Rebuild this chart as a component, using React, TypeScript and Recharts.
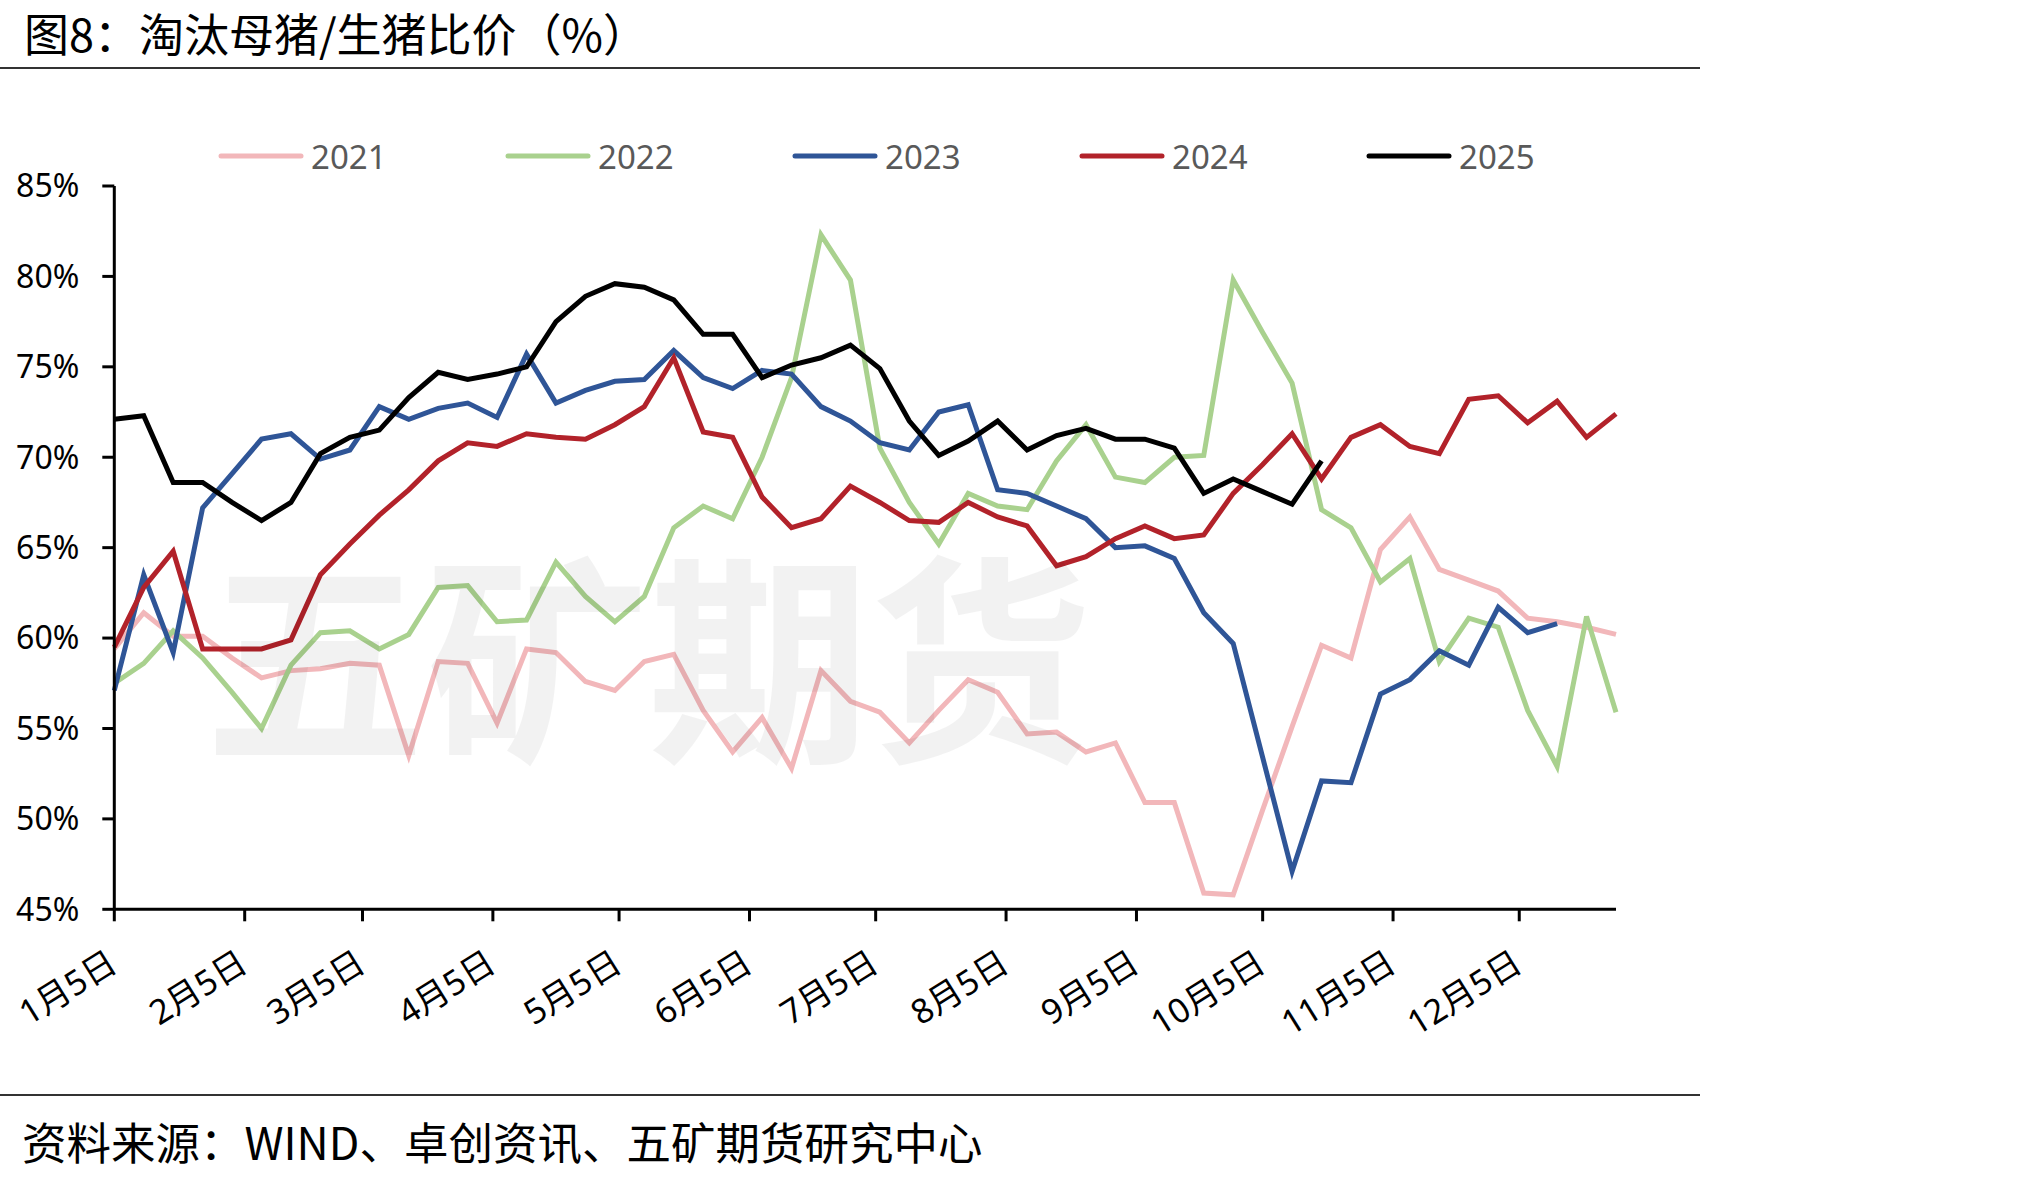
import React from 'react';
import { LineChart, Line, XAxis, YAxis } from 'recharts';

// weekly observations, x = days since Jan 5
const weekDays = Array.from({ length: 52 }, (_, i) => i * 7);

const y2021 = [
  59.4, 61.4, 60.1, 60.1, 58.9, 57.8, 58.2, 58.3, 58.6, 58.5, 53.5, 58.7, 58.6, 55.3, 59.4, 59.2, 57.6, 57.1,
  58.7, 59.1, 56.0, 53.7, 55.6, 52.8, 58.2, 56.5, 55.9, 54.2, 56.0, 57.7, 57.0, 54.7, 54.8, 53.7, 54.2, 50.9,
  50.9, 45.9, 45.8, 50.5, 55.1, 59.6, 58.9, 64.9, 66.7, 63.8, 63.2, 62.6, 61.1, 60.9, 60.6, 60.2,
];
const y2022 = [
  57.5, 58.6, 60.4, 58.9, 57.0, 55.0, 58.5, 60.3, 60.4, 59.4, 60.2, 62.8, 62.9, 60.9, 61.0, 64.2, 62.3, 60.9,
  62.3, 66.1, 67.3, 66.6, 70.0, 74.4, 82.3, 79.8, 70.5, 67.5, 65.2, 68.0, 67.3, 67.1, 69.8, 71.8, 68.9, 68.6,
  70.0, 70.1, 79.8, 76.9, 74.1, 67.1, 66.1, 63.1, 64.4, 58.7, 61.1, 60.6, 56.0, 52.9, 61.2, 55.9,
];
const y2023 = [
  57.1, 63.5, 59.2, 67.2, 69.1, 71.0, 71.3, 69.9, 70.4, 72.8, 72.1, 72.7, 73.0, 72.2, 75.7, 73.0, 73.7, 74.2,
  74.3, 75.9, 74.4, 73.8, 74.8, 74.6, 72.8, 72.0, 70.8, 70.4, 72.5, 72.9, 68.2, 68.0, 67.3, 66.6, 65.0, 65.1,
  64.4, 61.4, 59.7, 53.4, 47.1, 52.1, 52.0, 56.9, 57.7, 59.3, 58.5, 61.7, 60.3, 60.8,
];
const y2024 = [
  59.5, 62.8, 64.8, 59.4, 59.4, 59.4, 59.9, 63.5, 65.2, 66.8, 68.2, 69.8, 70.8, 70.6, 71.3, 71.1, 71.0, 71.8,
  72.8, 75.5, 71.4, 71.1, 67.8, 66.1, 66.6, 68.4, 67.5, 66.5, 66.4, 67.5, 66.7, 66.2, 64.0, 64.5, 65.5, 66.2,
  65.5, 65.7, 68.0, 69.6, 71.3, 68.8, 71.1, 71.8, 70.6, 70.2, 73.2, 73.4, 71.9, 73.1, 71.1, 72.4,
];
const y2025 = [
  72.1, 72.3, 68.6, 68.6, 67.5, 66.5, 67.5, 70.2, 71.1, 71.5, 73.3, 74.7, 74.3, 74.6, 75.0, 77.5, 78.9, 79.6,
  79.4, 78.7, 76.8, 76.8, 74.4, 75.1, 75.5, 76.2, 74.9, 72.0, 70.1, 70.9, 72.0, 70.4, 71.2, 71.6, 71.0, 71.0,
  70.5, 68.0, 68.8, 68.1, 67.4, 69.8,
];

const seriesNames = ['2021', '2022', '2023', '2024', '2025'];
const seriesColors = ['#F2B7BA', '#A9D18E', '#2F5597', '#B2222A', '#000000'];

const monthTicks = [0, 31, 59, 90, 120, 151, 181, 212, 243, 273, 304, 334];
const monthLabels = [
  '1月5日', '2月5日', '3月5日', '4月5日', '5月5日', '6月5日',
  '7月5日', '8月5日', '9月5日', '10月5日', '11月5日', '12月5日',
];
const yTicks = [45, 50, 55, 60, 65, 70, 75, 80, 85];

const data = weekDays.map((day, i) => ({
  day,
  '2021': y2021[i],
  '2022': y2022[i],
  '2023': y2023[i],
  '2024': y2024[i],
  '2025': y2025[i],
}));

const LATIN = "'Noto Sans', 'Noto Sans CJK SC', sans-serif";
const CJK = "'Noto Sans CJK SC', sans-serif";

const MonthTick = (props: any) => {
  const { x, y, payload } = props;
  const label = monthLabels[monthTicks.indexOf(payload.value)];
  const tx = x + 5;
  const ty = y + 46;
  return (
    <text
      x={tx}
      y={ty}
      textAnchor="end"
      transform={`rotate(-32, ${tx}, ${ty})`}
      fontSize={34}
      fill="#000"
      fontFamily={LATIN}
    >
      {label}
    </text>
  );
};

const App: React.FC = () => {
  return (
    <div style={{ position: 'relative', width: 2035, height: 1178, background: '#fff', overflow: 'hidden' }}>
      <style>{'body{margin:0}'}</style>

      <div
        style={{
          position: 'absolute', left: 24, top: 0, fontSize: 45, lineHeight: '66px',
          fontFamily: CJK, color: '#000', whiteSpace: 'nowrap',
        }}
      >
        图8：淘汰母猪/生猪比价（%）
      </div>
      <div style={{ position: 'absolute', left: 0, top: 67, width: 1700, height: 2, background: '#333' }} />

      {/* legend */}
      <svg style={{ position: 'absolute', left: 0, top: 0 }} width={1700} height={200}>
        {seriesNames.map((name, i) => {
          const x0 = 221 + i * 287;
          return (
            <g key={name}>
              <line x1={x0} y1={156} x2={x0 + 80} y2={156} stroke={seriesColors[i]} strokeWidth={5} strokeLinecap="round" />
              <text x={x0 + 90} y={156} dominantBaseline="central" fontSize={33} fill="#595959" fontFamily={LATIN}>
                {name}
              </text>
            </g>
          );
        })}
      </svg>

      <div style={{ position: 'absolute', left: 0, top: 0 }}>
        <LineChart width={1700} height={1100} data={data} margin={{ top: 186, right: 84, bottom: 0, left: 0 }}>
          <XAxis
            type="number"
            dataKey="day"
            domain={[0, 357]}
            ticks={monthTicks}
            interval={0}
            height={190.7}
            tickSize={12}
            axisLine={{ stroke: '#000', strokeWidth: 3 }}
            tickLine={{ stroke: '#000', strokeWidth: 3 }}
            tick={<MonthTick />}
          />
          <YAxis
            type="number"
            domain={[45, 85]}
            ticks={yTicks}
            interval={0}
            width={114.3}
            tickSize={12}
            tickMargin={23}
            tickFormatter={(v: number) => `${v}%`}
            axisLine={{ stroke: '#000', strokeWidth: 3 }}
            tickLine={{ stroke: '#000', strokeWidth: 3 }}
            tick={{ fontSize: 32, fill: '#000', fontFamily: LATIN }}
          />
          {seriesNames.map((name, i) => (
            <Line
              key={name}
              type="linear"
              dataKey={name}
              stroke={seriesColors[i]}
              strokeWidth={5}
              dot={false}
              activeDot={false}
              isAnimationActive={false}
            />
          ))}
        </LineChart>
      </div>

      {/* watermark */}
      <div
        style={{
          position: 'absolute', left: 204, top: 537, fontSize: 222, lineHeight: '222px', fontWeight: 700,
          fontFamily: CJK, color: 'rgba(0,0,0,0.05)', whiteSpace: 'nowrap', pointerEvents: 'none',
        }}
      >
        五矿期货
      </div>

      <div style={{ position: 'absolute', left: 0, top: 1094, width: 1700, height: 2, background: '#333' }} />
      <div
        style={{
          position: 'absolute', left: 22, top: 1111, fontSize: 44.5, lineHeight: '60px',
          fontFamily: CJK, color: '#000', whiteSpace: 'nowrap',
        }}
      >
        资料来源：WIND、卓创资讯、五矿期货研究中心
      </div>
    </div>
  );
};

export default App;
